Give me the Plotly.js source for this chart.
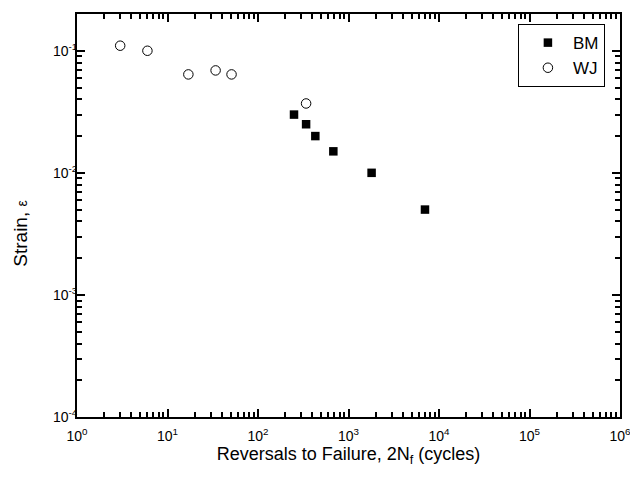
<!DOCTYPE html>
<html>
<head>
<meta charset="utf-8">
<script src="https://cdn.plot.ly/plotly-3.0.1.min.js"></script>
<style>html,body{margin:0;padding:0;background:#fff;}#chart{width:630px;height:477px;}</style>
</head>
<body>
<div id="chart"></div>
<script>
// Data
var bmCycles = [250, 340, 430, 680, 1800, 7000];
var bmStrain = [0.030, 0.025, 0.020, 0.015, 0.010, 0.005];
var wjCycles = [3, 6, 17, 34, 51, 340];
var wjStrain = [0.110, 0.100, 0.064, 0.069, 0.064, 0.037];

// tick labels: plain-number label produced by the axis -> label shown
var xTickKeys = ['1', '10', '100', '1000', '10,000', '100,000', '1,000,000'];
var xTickText = ['10<sup>0</sup>', '10<sup>1</sup>', '10<sup>2</sup>', '10<sup>3</sup>', '10<sup>4</sup>', '10<sup>5</sup>', '10<sup>6</sup>'];
var yTickKeys = ['0.0001', '0.001', '0.01', '0.1'];
var yTickText = ['10<sup>-4</sup>', '10<sup>-3</sup>', '10<sup>-2</sup>', '10<sup>-1</sup>'];

function alias(keys, texts) {
  var o = {};
  for (var i = 0; i < keys.length; i++) o[keys[i]] = texts[i];
  return o;
}

var font = 'Arial, sans-serif';

var traces = [
  {x: bmCycles, y: bmStrain, name: 'BM', type: 'scatter', mode: 'markers',
   marker: {symbol: 'square', size: 8.5, color: 'black'}},
  {x: wjCycles, y: wjStrain, name: 'WJ', type: 'scatter', mode: 'markers',
   marker: {symbol: 'circle-open', size: 9.5, color: 'black', line: {width: 1, color: 'black'}}}
];

var axisCommon = {
  type: 'log', showgrid: false, showline: true, linecolor: 'black', linewidth: 2,
  mirror: 'allticks', ticks: 'inside', ticklen: 8, tickwidth: 2, tickcolor: 'black',
  dtick: 1, exponentformat: 'none',
  ticklabeloverflow: 'allow', tickfont: {family: font, size: 14, color: 'black'},
  minor: {ticks: 'inside', ticklen: 5, tickwidth: 1.5, tickcolor: 'black'}
};

var layout = {
  width: 630, height: 477,
  margin: {l: 77, r: 10, t: 14, b: 60},
  font: {family: font, color: 'black'},
  showlegend: true,
  legend: {x: 0.812, y: 0.975, xanchor: 'left', yanchor: 'top', bgcolor: 'white',
           bordercolor: 'black', borderwidth: 1, itemwidth: 40, indentation: 4,
           font: {family: font, size: 17, color: 'black'}},
  xaxis: Object.assign({}, axisCommon, {
    range: [0, 6], labelalias: alias(xTickKeys, xTickText), ticklabelstandoff: 5,
    title: {text: 'Reversals to Failure, 2N<sub>f</sub> (cycles)', font: {family: font, size: 18, color: 'black'}, standoff: 5}
  }),
  yaxis: Object.assign({}, axisCommon, {
    range: [-4, Math.log10(0.2)], labelalias: alias(yTickKeys, yTickText), ticklabelstandoff: -5
  }),
  annotations: [{
    text: 'Strain, <span style="font-size:14px">ε</span>', textangle: -90,
    xref: 'paper', yref: 'paper', x: -0.103, y: 0.455, xanchor: 'center', yanchor: 'middle',
    showarrow: false, font: {family: font, size: 19, color: 'black'}
  }]
};

Plotly.newPlot('chart', traces, layout, {displayModeBar: false});
</script>
</body>
</html>
